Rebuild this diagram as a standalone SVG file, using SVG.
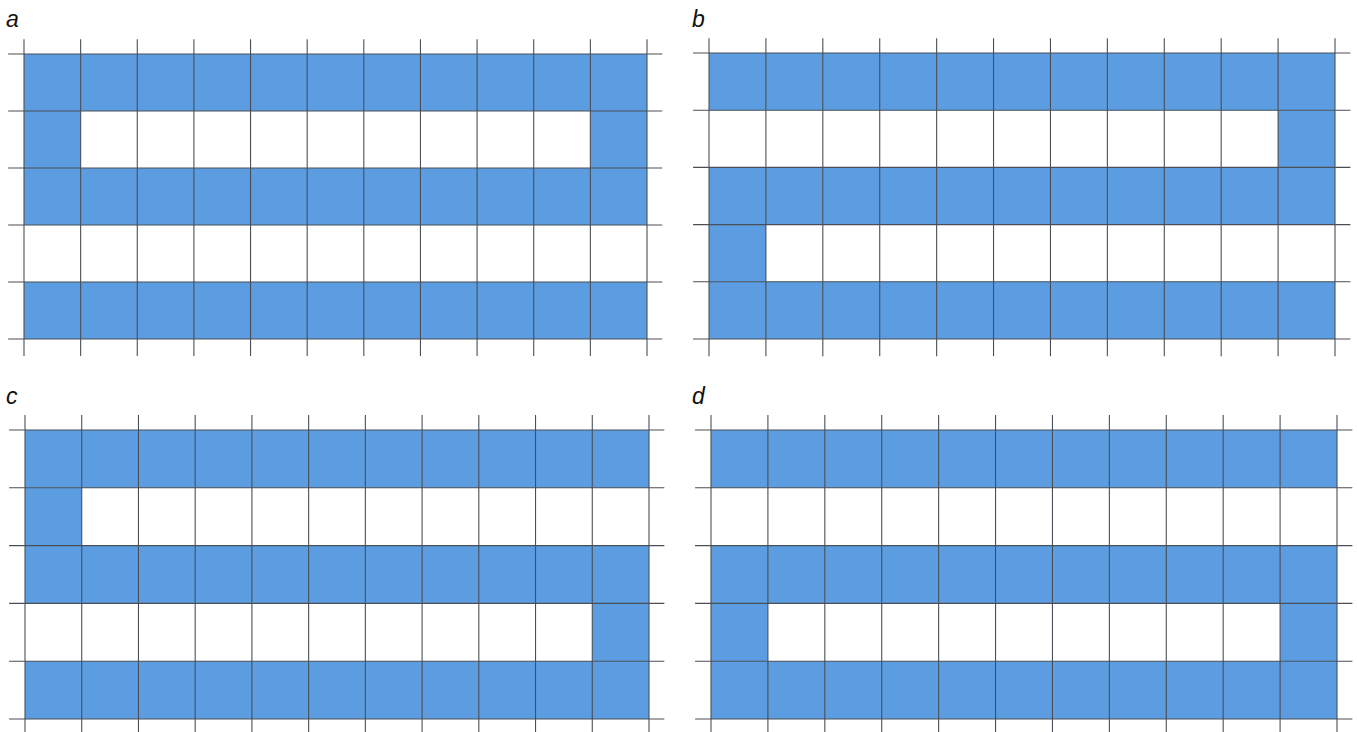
<svg xmlns="http://www.w3.org/2000/svg" width="1357" height="732" viewBox="0 0 1357 732">
<style>
.bg{fill:#ffffff}
.cell{fill:#5b9de0}
.g line{stroke:#4a4f57;stroke-width:1.1;vector-effect:non-scaling-stroke}
.lbl{font-family:"Liberation Sans",Arial,sans-serif;font-style:italic;font-size:23px;fill:#111}
</style>
<rect class="bg" x="0" y="0" width="1357" height="732"/>
<defs>
<g id="grid" class="g">
<line x1="0" y1="-0.26" x2="0" y2="5.3"/><line x1="1" y1="-0.26" x2="1" y2="5.3"/><line x1="2" y1="-0.26" x2="2" y2="5.3"/><line x1="3" y1="-0.26" x2="3" y2="5.3"/><line x1="4" y1="-0.26" x2="4" y2="5.3"/><line x1="5" y1="-0.26" x2="5" y2="5.3"/><line x1="6" y1="-0.26" x2="6" y2="5.3"/><line x1="7" y1="-0.26" x2="7" y2="5.3"/><line x1="8" y1="-0.26" x2="8" y2="5.3"/><line x1="9" y1="-0.26" x2="9" y2="5.3"/><line x1="10" y1="-0.26" x2="10" y2="5.3"/><line x1="11" y1="-0.26" x2="11" y2="5.3"/>
<line x1="-0.28" y1="0" x2="11.27" y2="0"/><line x1="-0.28" y1="1" x2="11.27" y2="1"/><line x1="-0.28" y1="2" x2="11.27" y2="2"/><line x1="-0.28" y1="3" x2="11.27" y2="3"/><line x1="-0.28" y1="4" x2="11.27" y2="4"/><line x1="-0.28" y1="5" x2="11.27" y2="5"/>
</g>
</defs>
<g id="panel-a" transform="translate(24,54) scale(56.636,57)">
<rect class="cell" x="0" y="0" width="11" height="1"/><rect class="cell" x="0" y="1" width="1" height="1"/><rect class="cell" x="10" y="1" width="1" height="1"/><rect class="cell" x="0" y="2" width="11" height="1"/><rect class="cell" x="0" y="4" width="11" height="1"/>
<use href="#grid"/>
</g>
<g id="panel-b" transform="translate(709,53) scale(56.909,57.2)">
<rect class="cell" x="0" y="0" width="11" height="1"/><rect class="cell" x="10" y="1" width="1" height="1"/><rect class="cell" x="0" y="2" width="11" height="1"/><rect class="cell" x="0" y="3" width="1" height="1"/><rect class="cell" x="0" y="4" width="11" height="1"/>
<use href="#grid"/>
</g>
<g id="panel-c" transform="translate(25,430) scale(56.727,57.8)">
<rect class="cell" x="0" y="0" width="11" height="1"/><rect class="cell" x="0" y="1" width="1" height="1"/><rect class="cell" x="0" y="2" width="11" height="1"/><rect class="cell" x="10" y="3" width="1" height="1"/><rect class="cell" x="0" y="4" width="11" height="1"/>
<use href="#grid"/>
</g>
<g id="panel-d" transform="translate(711,430) scale(56.909,57.8)">
<rect class="cell" x="0" y="0" width="11" height="1"/><rect class="cell" x="0" y="2" width="11" height="1"/><rect class="cell" x="0" y="3" width="1" height="1"/><rect class="cell" x="10" y="3" width="1" height="1"/><rect class="cell" x="0" y="4" width="11" height="1"/>
<use href="#grid"/>
</g>
<g id="labels">
<text class="lbl" x="6" y="27">a</text>
<text class="lbl" x="692" y="27">b</text>
<text class="lbl" x="6" y="404">c</text>
<text class="lbl" x="692" y="404">d</text>
</g>
</svg>
